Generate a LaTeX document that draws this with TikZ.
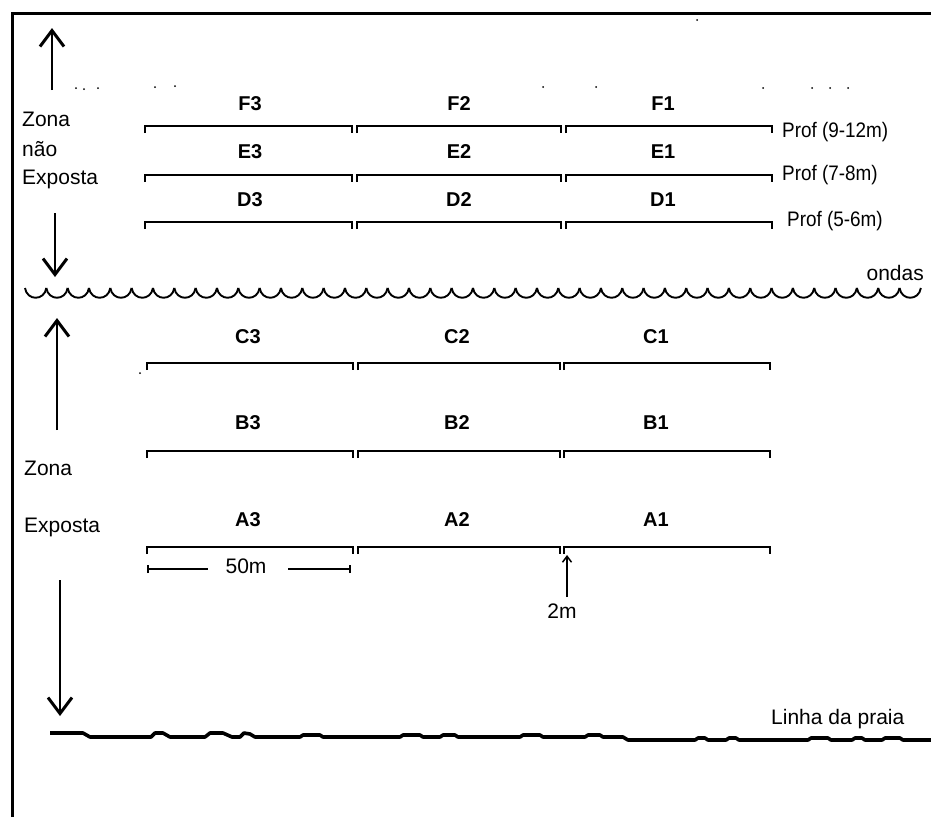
\documentclass[tikz,border=0pt]{standalone}
\usepackage{fontspec}
\setmainfont{Liberation Sans}
\usetikzlibrary{arrows.meta}
\begin{document}
\begin{tikzpicture}[x=1pt,y=-1pt,
  txt/.style={font=\fontsize{21}{25}\selectfont, inner sep=0pt},
  lab/.style={font=\fontsize{20}{24}\selectfont\bfseries, inner sep=0pt},
  bar/.style={line width=2.8pt, line cap=butt, line join=miter},
  border/.style={line width=3pt},
  zarrow/.style={line width=2pt, -{Straight Barb[length=16pt,width=24pt,line width=3pt]}},
  smallarrow/.style={line width=2pt, -{Straight Barb[length=6pt,width=9pt,line width=1.5pt]}},
  wave/.style={line width=1.9pt},
  shore/.style={line width=3.6pt, line join=round},
  speck/.style={fill=black, inner sep=0pt, minimum size=2pt, circle}
]
\useasboundingbox (0,0) rectangle (931,817);
\fill[white] (0,0) rectangle (931,817);

% frame
\coordinate (frameBL) at (12,817);
\coordinate (frameTL) at (12,13);
\coordinate (frameTR) at (931,13);
\draw[border] (frameBL) -- (frameTL) -- (frameTR);

% specks
\foreach \sx/\sy [count=\k] in {76/88,84/89,98/88,155/87,175/86,543/87,596/87,697/20,763/88,812/88,830/88,848/88,140/373}
  \node[speck] (sp\k) at (\sx,\sy) {};

% ---------- zone arrows and texts ----------
\coordinate (a1s) at (52,90);  \coordinate (a1e) at (52,28);
\draw[zarrow] (a1s) -- (a1e);
\node[txt, anchor=base west] (zona1) at (22,126) {Zona};
\node[txt, anchor=base west] (nao) at (22,156) {não};
\node[txt, anchor=base west] (expo1) at (22,184) {Exposta};
\coordinate (a2s) at (55,213); \coordinate (a2e) at (55,277);
\draw[zarrow] (a2s) -- (a2e);

\coordinate (a3s) at (57,430); \coordinate (a3e) at (57,318);
\draw[zarrow] (a3s) -- (a3e);
\node[txt, anchor=base west] (zona2) at (24,475) {Zona};
\node[txt, anchor=base west] (expo2) at (24,532) {Exposta};
\coordinate (a4s) at (60,580); \coordinate (a4e) at (60,716);
\draw[zarrow] (a4s) -- (a4e);

% ---------- waves ----------
\foreach \i in {0,...,41}{
  \pgfmathsetmacro\xa{25+21.33*\i}
  \pgfmathsetmacro\xb{\xa+21.33}
  \draw[wave] (\xa,288) .. controls (\xa+2,301) and (\xb-2,301) .. (\xb,288);
}
\node[txt, anchor=base east] (ondas) at (924,280) {ondas};

% ---------- upper transects ----------
\foreach \row/\y/\ly in {F/126/104, E/175/152, D/222/200}{
  \foreach \n/\xl/\xr/\xc in {3/145/352/250, 2/357/561/459, 1/566/772/663}{
    \coordinate (\row\n L) at (\xl,\y);
    \coordinate (\row\n R) at (\xr,\y);
    \draw[bar] ([yshift=-7pt]\row\n L) -- (\row\n L) -- (\row\n R) -- ([yshift=-7pt]\row\n R);
    \node[lab] (\row\n) at (\xc,\ly) {\row\n};
  }
}
\node[txt, anchor=base west] (p1) at (782,137) {\scalebox{0.9}[1]{Prof (9-12m)}};
\node[txt, anchor=base west] (p2) at (782,180) {\scalebox{0.9}[1]{Prof (7-8m)}};
\node[txt, anchor=base west] (p3) at (787,226) {\scalebox{0.9}[1]{Prof (5-6m)}};

% ---------- lower transects ----------
\foreach \row/\y/\ly in {C/363/337, B/451/423, A/547/520}{
  \foreach \n/\xl/\xr/\xc in {3/147/353/248, 2/358/560/457, 1/564/770/656}{
    \coordinate (\row\n L) at (\xl,\y);
    \coordinate (\row\n R) at (\xr,\y);
    \draw[bar] ([yshift=-7pt]\row\n L) -- (\row\n L) -- (\row\n R) -- ([yshift=-7pt]\row\n R);
    \node[lab] (\row\n) at (\xc,\ly) {\row\n};
  }
}

% ---------- 50m scale ----------
\node[txt, anchor=base] (fifty) at (246,573) {50m};
\coordinate (s1) at (148,569); \coordinate (s2) at (208,569);
\coordinate (s3) at (288,569); \coordinate (s4) at (350,569);
\draw[line width=2pt] (s1) -- (s2);
\draw[line width=2pt] (s3) -- (s4);
\draw[line width=2.4pt] ([yshift=-4pt]s1) -- ([yshift=4pt]s1);
\draw[line width=2.4pt] ([yshift=-4pt]s4) -- ([yshift=4pt]s4);

% ---------- 2m arrow ----------
\node[txt, anchor=base] (twom) at (562,618) {2m};
\coordinate (t1) at (567,597); \coordinate (t2) at (567,555);
\draw[smallarrow] (t1) -- (t2);

% ---------- shoreline ----------
\coordinate (sh0) at (50,733);
\coordinate (sh1) at (931,740);
\draw[shore] (sh0) -- (83,733) -- (90,737) -- (151,737) -- (155,733) -- (163,733) -- (170,737)
  -- (205,737) -- (210,733) -- (223,733) -- (232,737) -- (240,737) -- (244,733) -- (250,734)
  -- (255,737) -- (300,737) -- (303,735) -- (320,735) -- (323,737) -- (400,737) -- (403,735)
  -- (420,735) -- (423,737) -- (440,737) -- (443,735) -- (455,735) -- (458,737) -- (520,737)
  -- (523,735) -- (540,735) -- (543,737) -- (585,737) -- (588,735) -- (600,735) -- (603,737)
  -- (623,737) -- (628,740) -- (695,740) -- (698,738) -- (705,738) -- (708,740) -- (726,740)
  -- (729,738) -- (736,738) -- (739,740) -- (808,740) -- (811,738) -- (828,738) -- (831,740)
  -- (852,740) -- (855,738) -- (862,738) -- (865,740) -- (882,740) -- (885,738) -- (900,738)
  -- (903,740) -- (sh1);
\node[txt, anchor=base west] (praia) at (771,724) {Linha da praia};

\end{tikzpicture}
\end{document}
